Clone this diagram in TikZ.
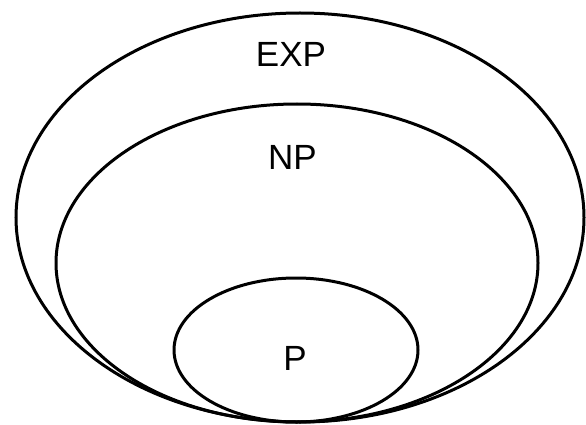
\documentclass[tikz,border=0pt]{standalone}
\usepackage{fontspec}
\setmainfont{Liberation Sans}
\usetikzlibrary{positioning}

\begin{document}
\begin{tikzpicture}[
		x=1pt, y=-1pt,
		set/.style={draw, line width=3pt},
		setlabel/.style={font=\fontsize{35}{40}\selectfont, inner sep=0pt}
		]
		
		\useasboundingbox (0,0) rectangle (586,425);
		
		\draw[set] (300,217.5) ellipse [x radius=284, y radius=204.5];
		\draw[set] (297,263) ellipse [x radius=241, y radius=159];
		\draw[set] (296,350) ellipse [x radius=122, y radius=72];
		
		\node[setlabel] (exp) at (291,54.5) {EXP};
		\node[setlabel] (np) at (292.5,157) {NP};
		\node[setlabel] (p) at (295,358.5) {P};
		
	\end{tikzpicture}
\end{document}
